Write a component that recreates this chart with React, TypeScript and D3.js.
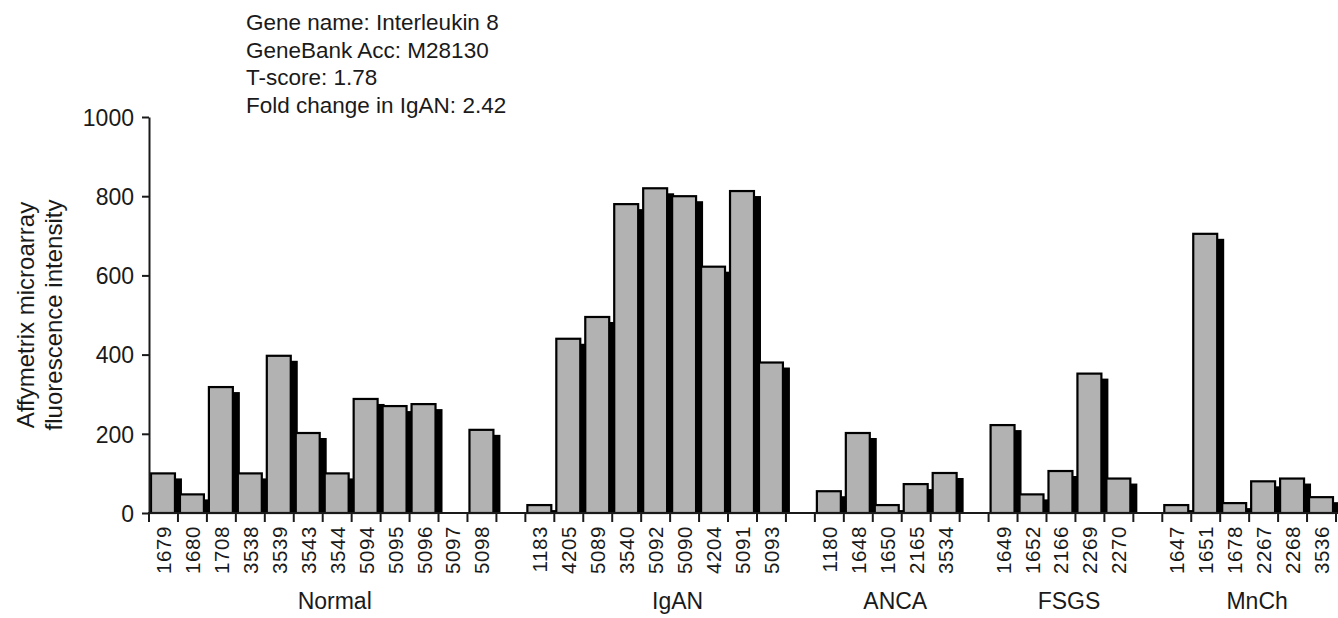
import React, { useEffect, useRef } from 'react';
import * as d3 from 'd3';

const groupNames = ["Normal", "IgAN", "ANCA", "FSGS", "MnCh"];

const normalIds = ["1679", "1680", "1708", "3538", "3539", "3543", "3544", "5094", "5095", "5096", "5097", "5098"];
const normalValues = [100, 47, 318, 100, 397, 202, 100, 288, 270, 275, 0, 210];

const iganIds = ["1183", "4205", "5089", "3540", "5092", "5090", "4204", "5091", "5093"];
const iganValues = [20, 440, 495, 780, 820, 800, 622, 813, 380];

const ancaIds = ["1180", "1648", "1650", "2165", "3534"];
const ancaValues = [55, 202, 20, 73, 101];

const fsgsIds = ["1649", "1652", "2166", "2269", "2270"];
const fsgsValues = [222, 47, 106, 352, 87];

const mnchIds = ["1647", "1651", "1678", "2267", "2268", "3536"];
const mnchValues = [20, 705, 25, 80, 87, 40];

const yTicks = [0, 200, 400, 600, 800, 1000];

const infoLines = [
  "Gene name: Interleukin 8",
  "GeneBank Acc: M28130",
  "T-score: 1.78",
  "Fold change in IgAN: 2.42",
];

const W = 1338, H = 618;
const FONT = "'Liberation Sans', Arial, Helvetica, sans-serif";
const INK = "#1a1a1a";

// one slot per sample, one empty slot between groups
const groupData = [
  [normalIds, normalValues],
  [iganIds, iganValues],
  [ancaIds, ancaValues],
  [fsgsIds, fsgsValues],
  [mnchIds, mnchValues],
];
const slots: { key: string; id: string; value: number | null; group: number }[] = [];
groupData.forEach(([ids, vals], g) => {
  (ids as string[]).forEach((id, i) => slots.push({ key: `${g}-${id}`, id, value: (vals as number[])[i], group: g }));
  if (g < groupData.length - 1) slots.push({ key: `gap-${g}`, id: "", value: null, group: -1 });
});

// group captions sit a bit right of the group centre in the original
const captionNudge = [12, 22, 8, 8, 8];

export default function App() {
  const yAxisRef = useRef<SVGGElement>(null);

  const x0 = 149, x1 = 1336;
  const yTop = 117, yBase = 513;

  const x = d3.scaleBand<string>()
    .domain(slots.map(s => s.key))
    .range([x0, x1])
    .paddingInner(0).paddingOuter(0);
  const y = d3.scaleLinear().domain([0, 1000]).range([yBase, yTop]);
  const step = x.step();

  useEffect(() => {
    const g = d3.select(yAxisRef.current);
    g.call(d3.axisLeft(y).tickValues(yTicks).tickFormat(d3.format("d")).tickSize(7).tickSizeOuter(0).tickPadding(8) as any);
    g.select(".domain").attr("stroke", INK).attr("stroke-width", 2);
    g.selectAll(".tick line").attr("stroke", INK).attr("stroke-width", 2);
    g.selectAll(".tick text")
      .attr("fill", INK)
      .attr("dy", "0.36em")
      .style("font-family", FONT)
      .style("font-size", "23px");
  }, []);

  const bars = slots.filter(s => s.value != null && s.value > 0);
  const boundaries = d3.range(slots.length + 1).map(i => x0 + i * step);

  const groupCenters = groupNames.map((name, g) => {
    const ks = slots.filter(s => s.group === g).map(s => x(s.key) as number);
    return { name, cx: (d3.min(ks)! + d3.max(ks)! + step) / 2 + captionNudge[g] };
  });

  const barInset = 2;
  const barW = step - 5;
  const shOff = 7, shDrop = 5;

  return (
    <svg width={W} height={H} style={{ position: "absolute", left: 0, top: 0, background: "#fff" }}>
      <g fontFamily={FONT} fill={INK}>
        {infoLines.map((t, i) => (
          <text key={t} x={246} y={30 + i * 27.5} fontSize={22.5}>{t}</text>
        ))}
        <text transform={`translate(34, ${(yTop + yBase) / 2}) rotate(-90)`} textAnchor="middle" fontSize={24}>
          Affymetrix microarray
        </text>
        <text transform={`translate(62, ${(yTop + yBase) / 2}) rotate(-90)`} textAnchor="middle" fontSize={24}>
          fluorescence intensity
        </text>
      </g>

      <g>
        {bars.map(s => {
          const bx = (x(s.key) as number) + barInset;
          const by = y(s.value as number);
          return (
            <g key={s.key}>
              <rect x={bx + shOff} y={Math.min(by + shDrop, yBase)} width={barW} height={Math.max(0, yBase - by - shDrop)} fill="#000" />
              <rect x={bx} y={by} width={barW} height={yBase - by} fill="#b2b2b2" stroke="#000" strokeWidth={2.2} />
            </g>
          );
        })}
      </g>

      <g ref={yAxisRef} transform={`translate(${x0}, 0)`} />

      <g stroke={INK} strokeWidth={2}>
        <line x1={x0 - 1} x2={W} y1={yBase} y2={yBase} />
        {boundaries.map((bx, i) => (
          <line key={i} x1={bx} x2={bx} y1={yBase} y2={yBase + 9} />
        ))}
      </g>

      <g fontFamily={FONT} fill={INK}>
        {slots.filter(s => s.id).map(s => (
          <text key={s.key} textAnchor="end" dominantBaseline="central" fontSize={20.5} letterSpacing={0.6}
            transform={`translate(${(x(s.key) as number) + step / 2}, ${yBase + 13}) rotate(-90)`}>
            {s.id}
          </text>
        ))}
        {groupCenters.map(g => (
          <text key={g.name} x={g.cx} y={609} textAnchor="middle" fontSize={23}>{g.name}</text>
        ))}
      </g>
    </svg>
  );
}
